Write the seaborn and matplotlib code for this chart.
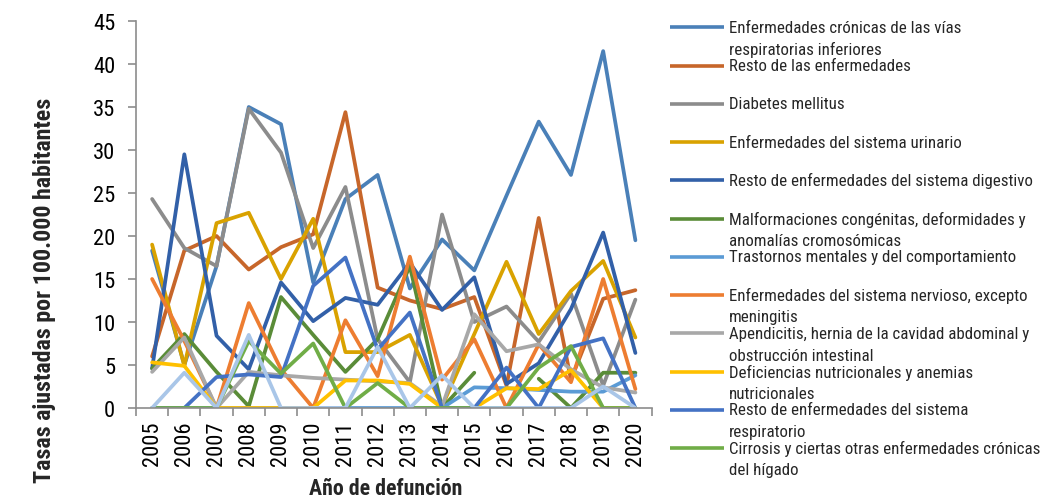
import numpy as np
import pandas as pd
import matplotlib
matplotlib.use("Agg")
import matplotlib.pyplot as plt
from matplotlib import font_manager
from matplotlib.lines import Line2D
import seaborn as sns

# ---- data -------------------------------------------------------------
years = list(range(2005, 2021))

cronicas_resp = [18.3, 5.0, 16.5, 35.0, 33.0, 14.6, 24.3, 27.1, 13.9, 19.6, 16.0, 24.7, 33.3, 27.1, 41.5, 19.5]
resto_enf = [6.0, 18.3, 20.0, 16.1, 18.7, 20.2, 34.4, 14.0, 12.5, 11.5, 12.9, 2.6, 22.1, 3.3, 12.7, 13.7]
diabetes = [24.3, 18.6, 16.5, 34.8, 29.7, 18.6, 25.7, 8.0, 3.0, 22.5, 10.0, 11.8, 7.7, 13.3, 2.6, 12.6]
urinario = [19.0, 4.9, 21.5, 22.7, 15.0, 22.0, 6.5, 6.5, 8.5, 0.2, 8.6, 17.0, 8.6, 13.6, 17.1, 8.2]
digestivo = [4.6, 29.5, 8.4, 4.5, 14.6, 10.1, 12.8, 12.0, 16.9, 11.4, 15.2, 2.8, 5.2, 11.5, 20.4, 6.4]
malformaciones = [4.6, 8.6, 4.2, 0.2, 12.9, 8.5, 4.2, 8.0, 16.5, 0.0, 4.1, np.nan, 3.4, 0.0, 4.1, 4.1]
trastornos = [0.0, 0.0, 0.0, 0.0, 0.0, 0.0, 0.0, 0.0, 0.0, 0.0, 2.4, 2.3, 2.1, 1.9, 1.9, 3.8]
nervioso = [15.0, 7.8, 0.0, 12.2, 4.5, 0.0, 10.2, 3.7, 17.6, 3.3, 8.0, 0.0, 7.4, 3.0, 15.0, 2.2]
apendicitis = [4.2, 8.2, 0.0, 4.2, 3.8, 3.5, 3.3, 3.1, 2.9, 0.2, 10.9, 6.6, 7.4, 4.5, 2.4, 1.8]
deficiencias = [5.3, 4.9, 0.0, 0.0, 0.0, 0.0, 3.2, 3.2, 2.8, 0.0, 0.0, 2.3, 2.2, 4.4, 0.0, 0.0]
respiratorio = [0.0, 0.0, 3.6, 3.9, 3.6, 14.2, 17.5, 6.8, 11.1, 0.0, 0.0, 4.7, 0.0, 7.1, 8.1, 0.0]
cirrosis = [0.0, 0.0, 0.0, 7.8, 4.0, 7.5, 0.0, 2.9, 0.0, 0.0, 0.0, 0.0, 4.7, 7.2, 0.0, 0.0]
otras = [0.0, 4.1, 0.0, 8.5, 0.0, 0.0, 0.0, 7.1, 0.0, 3.8, 0.0, 0.0, 0.0, 0.0, 2.5, 0.0]

labels = [
    "Enfermedades crónicas de las vías\nrespiratorias inferiores",
    "Resto de las enfermedades",
    "Diabetes mellitus",
    "Enfermedades del sistema urinario",
    "Resto de enfermedades del sistema digestivo",
    "Malformaciones congénitas, deformidades y\nanomalías cromosómicas",
    "Trastornos mentales y del comportamiento",
    "Enfermedades del sistema nervioso, excepto\nmeningitis",
    "Apendicitis, hernia de la cavidad abdominal y\nobstrucción intestinal",
    "Deficiencias nutricionales y anemias\nnutricionales",
    "Resto de enfermedades del sistema\nrespiratorio",
    "Cirrosis y ciertas otras enfermedades crónicas\ndel hígado",
    "Otras enfermedades",
]
series = [cronicas_resp, resto_enf, diabetes, urinario, digestivo, malformaciones,
          trastornos, nervioso, apendicitis, deficiencias, respiratorio, cirrosis, otras]
colors = ["#4A80B8", "#C7662A", "#8C8C8C", "#D9A200", "#3260A8", "#5A8C38",
          "#5B9BD5", "#ED7D31", "#A8A8A8", "#FFC000", "#4472C4", "#70AD47", "#A9C6E8"]
n_legend = 12

x_title = "Año de defunción"
y_title = "Tasas ajustadas por 100.000 habitantes"

# ---- style ------------------------------------------------------------
sns.set_theme(style="white")

# prefer a narrow sans face when one is installed
fonts = font_manager.fontManager.ttflist
names = {f.name for f in fonts}
family, stretch = None, "normal"
for cand in ["Liberation Sans Narrow", "Arial Narrow", "Roboto Condensed",
             "Open Sans Condensed", "Noto Sans Condensed"]:
    if cand in names:
        family = cand
        break
if family is None:
    for fam in ["Roboto", "Open Sans", "Noto Sans", "DejaVu Sans", "Liberation Sans"]:
        if any(f.name == fam and str(f.stretch) in ("condensed", "semi-condensed", "extra-condensed")
               for f in fonts):
            family, stretch = fam, "condensed"
            break
if family is None:
    family = "Liberation Sans" if "Liberation Sans" in names else "DejaVu Sans"
plt.rcParams["font.family"] = [family, "DejaVu Sans"]
plt.rcParams["font.stretch"] = stretch

W, H = 1044, 502
fig = plt.figure(figsize=(W / 100, H / 100), dpi=100)
renderer = fig.canvas.get_renderer()


def fit_size(text, target_px, weight="normal", base=12.0):
    t = fig.text(0, 0, text, fontsize=base, fontweight=weight)
    w = t.get_window_extent(renderer).width
    t.remove()
    return base * target_px / w


legend_fs = fit_size("Cirrosis y ciertas otras enfermedades crónicas", 309)
tick_fs = fit_size("2005", 44)
title_fs = fit_size(x_title, 153, weight="bold")
ytitle_fs = fit_size(y_title, 385, weight="bold")

ax_left, ax_right, ax_top, ax_bottom = 136, 651.5, 22, 409
ax = fig.add_axes([ax_left / W, 1 - ax_bottom / H, (ax_right - ax_left) / W, (ax_bottom - ax_top) / H])

# ---- lines ------------------------------------------------------------
xpos = np.arange(len(years))
for vals, col in zip(series, colors):
    df = pd.DataFrame({"x": xpos, "y": vals})
    ok = df["y"].notna()
    run = (~ok).cumsum()
    for _, seg in df[ok].groupby(run[ok]):
        sns.lineplot(data=seg, x="x", y="y", color=col, linewidth=2.7, ax=ax,
                     legend=False, sort=False, estimator=None)

# ---- axes -------------------------------------------------------------
ax.set_xlim(-0.5, len(years) - 0.5)
ax.set_ylim(0, 45)
ax.set_yticks(np.arange(0, 46, 5))
ax.set_xticks(xpos)
ax.set_xticklabels([str(y) for y in years], rotation=90)
ax.set_xticks(np.arange(-0.5, len(years), 1.0), minor=True)
ax.set_xlabel("")
ax.set_ylabel("")
for s in ["top", "right"]:
    ax.spines[s].set_visible(False)
for s in ["left", "bottom"]:
    ax.spines[s].set_color("#8C8C8C")
    ax.spines[s].set_linewidth(1.2)
ax.tick_params(axis="y", which="major", left=True, length=6, width=1.2, color="#8C8C8C",
               labelsize=tick_fs, pad=9, labelcolor="black")
ax.tick_params(axis="x", which="major", bottom=True, length=0, labelsize=tick_fs, pad=9,
               labelcolor="black")
ax.tick_params(axis="x", which="minor", bottom=True, length=6, width=1.2, color="#8C8C8C")

fig.text(45 / W, 1 - 290 / H, y_title, rotation=90,
         ha="center", va="center", fontsize=ytitle_fs, fontweight="bold")
fig.text(386 / W, 1 - 489 / H, x_title, ha="center", va="center",
         fontsize=title_fs, fontweight="bold")

# ---- legend -----------------------------------------------------------
y0, dy, line_gap = 28.3, 38.25, 21.8
for i in range(n_legend):
    yy = y0 + i * dy
    fig.add_artist(Line2D([670 / W, 724 / W], [1 - yy / H, 1 - yy / H],
                          color=colors[i], linewidth=2.6, solid_capstyle="butt"))
    for k, part in enumerate(labels[i].split("\n")):
        fig.text(729 / W, 1 - (yy + k * line_gap) / H, part, ha="left", va="center",
                 fontsize=legend_fs)

fig.savefig("out.png", dpi=100)
